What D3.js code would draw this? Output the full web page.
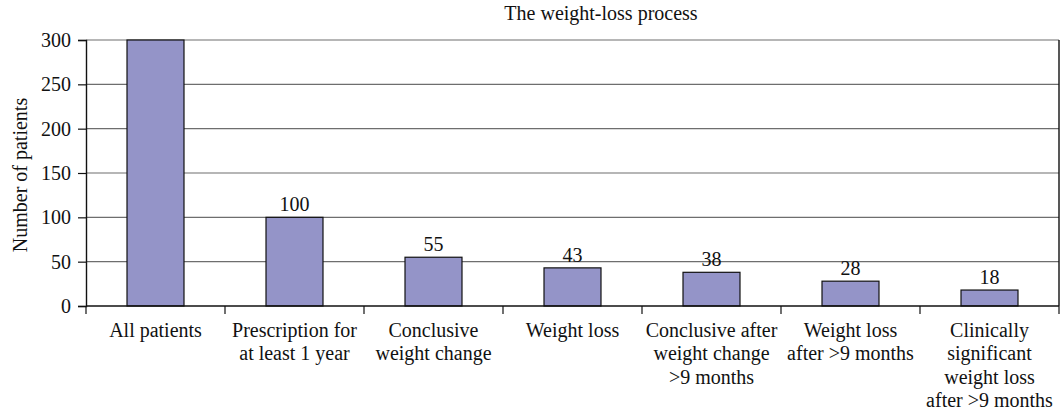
<!DOCTYPE html>
<html>
<head>
<meta charset="UTF-8">
<script src="https://d3js.org/d3.v7.min.js"></script>
<style>
  body { margin: 0; background: #fff; }
  text { font-family: "Liberation Serif", "DejaVu Serif", serif; fill: #111; }
</style>
</head>
<body>
<script>
// bar categories (label lines) and values
var categories = [
  ["All patients"],
  ["Prescription for", "at least 1 year"],
  ["Conclusive", "weight change"],
  ["Weight loss"],
  ["Conclusive after", "weight change", ">9 months"],
  ["Weight loss", "after >9 months"],
  ["Clinically", "significant", "weight loss", "after >9 months"]
];
var values = [300, 100, 55, 43, 38, 28, 18];
var showLabel = [false, true, true, true, true, true, true];
var yTicks = [0, 50, 100, 150, 200, 250, 300];
var title = "The weight-loss process";
var yTitle = "Number of patients";

var W = 1062, H = 413;
var margin = {top: 40, right: 3, bottom: 107, left: 86};
var width = W - margin.left - margin.right,
    height = H - margin.top - margin.bottom;
var fs = "20px";

var svg = d3.select("body").append("svg")
    .attr("width", W).attr("height", H);
var g = svg.append("g")
    .attr("transform", "translate(" + margin.left + "," + margin.top + ")");

var x = d3.scaleBand()
    .domain(d3.range(values.length))
    .range([0, width])
    .paddingInner(0.59).paddingOuter(0.295);

var y = d3.scaleLinear().domain([0, 300]).range([height, 0]);

// gridlines
g.selectAll(".grid").data(yTicks.filter(function(d) { return d > 0; }))
  .enter().append("line")
    .attr("x1", 0).attr("x2", width)
    .attr("y1", function(d) { return y(d); })
    .attr("y2", function(d) { return y(d); })
    .attr("stroke", "#6e6e6e").attr("stroke-width", 1.2);

// right border
g.append("line")
  .attr("x1", width).attr("x2", width)
  .attr("y1", 0).attr("y2", height)
  .attr("stroke", "#111").attr("stroke-width", 1.4);

// bars
g.selectAll(".bar").data(values).enter().append("rect")
    .attr("x", function(d, i) { return x(i); })
    .attr("y", function(d) { return y(d); })
    .attr("width", x.bandwidth())
    .attr("height", function(d) { return height - y(d); })
    .attr("fill", "#9494c8")
    .attr("stroke", "#111").attr("stroke-width", 1.2);

// value labels
g.selectAll(".val").data(values).enter().append("text")
    .filter(function(d, i) { return showLabel[i]; })
    .attr("x", function(d) { return x(values.indexOf(d)) + x.bandwidth() / 2; })
    .attr("y", function(d) { return y(d) - 6; })
    .attr("text-anchor", "middle")
    .style("font-size", fs)
    .text(function(d) { return d; });

// y axis
var yAxis = d3.axisLeft(y).tickValues(yTicks).tickSize(8).tickPadding(7);
var ya = g.append("g").call(yAxis);
ya.select(".domain").attr("stroke", "#111").attr("stroke-width", 1.4);
ya.selectAll(".tick line").attr("stroke", "#111").attr("stroke-width", 1.2);
ya.selectAll("text").style("font-size", fs).attr("fill", "#111");

// x axis: baseline + ticks at band edges
g.append("line")
  .attr("x1", 0).attr("x2", width)
  .attr("y1", height).attr("y2", height)
  .attr("stroke", "#111").attr("stroke-width", 1.4);
var step = x.step();
g.selectAll(".xt").data(d3.range(values.length + 1)).enter().append("line")
    .attr("x1", function(i) { return i * step; })
    .attr("x2", function(i) { return i * step; })
    .attr("y1", height).attr("y2", height + 8)
    .attr("stroke", "#111").attr("stroke-width", 1.2);

// category labels
var cl = g.selectAll(".cat").data(categories).enter().append("text")
    .attr("text-anchor", "middle")
    .attr("transform", function(d, i) {
      return "translate(" + (x(i) + x.bandwidth() / 2) + "," + (height + 31) + ")";
    })
    .style("font-size", fs);
cl.selectAll("tspan").data(function(d) { return d; }).enter().append("tspan")
    .attr("x", 0)
    .attr("dy", function(d, i) { return i === 0 ? 0 : 23.3; })
    .text(function(d) { return d; });

// titles
svg.append("text")
    .attr("x", 601).attr("y", 20)
    .attr("text-anchor", "middle")
    .style("font-size", fs)
    .text(title);

svg.append("text")
    .attr("transform", "translate(27," + (margin.top + height / 2 + 2) + ") rotate(-90)")
    .attr("text-anchor", "middle")
    .style("font-size", fs)
    .text(yTitle);
</script>
</body>
</html>
